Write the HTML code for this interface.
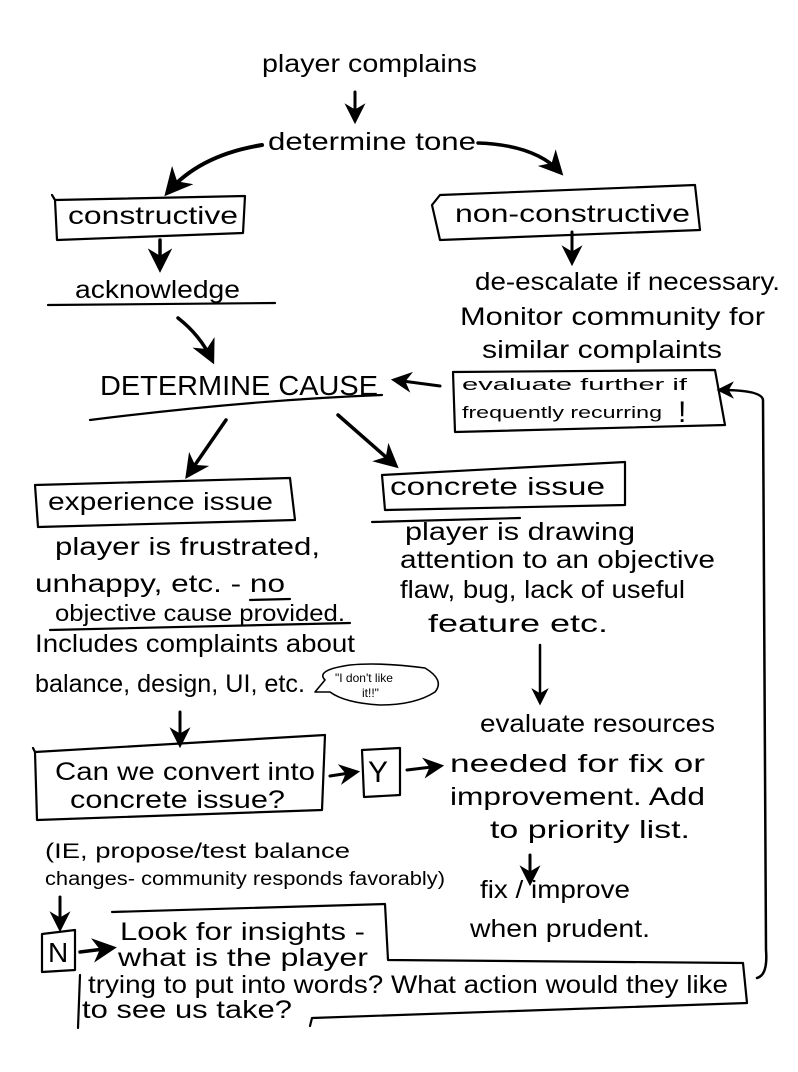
<!DOCTYPE html>
<html><head><meta charset="utf-8"><style>
html,body{margin:0;padding:0;background:#fff;}
svg{display:block;}
text{font-family:"Liberation Sans",sans-serif;fill:#000;}
</style></head><body>
<svg width="798" height="1072" viewBox="0 0 798 1072" xmlns="http://www.w3.org/2000/svg">
<defs>
<marker id="a" viewBox="0 0 10 10" refX="8" refY="5" markerWidth="7" markerHeight="7" orient="auto-start-reverse">
<path d="M0,0 L10,5 L0,10 L3,5 z" fill="#000"/></marker>
</defs>
<rect width="798" height="1072" fill="#fff"/>
<g fill="none" stroke="#000" stroke-width="2.2" stroke-linecap="round" stroke-linejoin="round">
<path d="M355,92 L355,120" marker-end="url(#a)" stroke-width="3"/>
<path d="M262,145 Q200,155 168,192" marker-end="url(#a)" stroke-width="4"/>
<path d="M478,143 Q535,145 560,172" marker-end="url(#a)" stroke-width="3.5"/>
<path d="M160,240 L160,268" marker-end="url(#a)" stroke-width="3.5"/>
<path d="M178,318 Q200,335 212,360" marker-end="url(#a)" stroke-width="3.5"/>
<path d="M572,232 L572,262" marker-end="url(#a)" stroke-width="3"/>
<path d="M440,386 L395,380" marker-end="url(#a)" stroke-width="3"/>
<path d="M226,420 L188,475" marker-end="url(#a)" stroke-width="3.5"/>
<path d="M338,415 L395,465" marker-end="url(#a)" stroke-width="3.5"/>
<path d="M540,645 L540,702" marker-end="url(#a)" stroke-width="2.5"/>
<path d="M180,712 L180,744" marker-end="url(#a)" stroke-width="3"/>
<path d="M330,776 L356,772" marker-end="url(#a)" stroke-width="3"/>
<path d="M407,770 L440,766" marker-end="url(#a)" stroke-width="3"/>
<path d="M530,855 L530,882" marker-end="url(#a)" stroke-width="3"/>
<path d="M60,897 L60,928" marker-end="url(#a)" stroke-width="3"/>
<path d="M80,952 L112,948" marker-end="url(#a)" stroke-width="3.5"/>
<path d="M757,978 Q768,975 766,950 L763,400 Q762,390 720,390" marker-end="url(#a)" stroke-width="2.5"/>
<path d="M55,200 L245,196 L243,233 L57,240 Z M55,200 L52,195"/>
<path d="M432,205 L440,195 L695,185 L700,230 L440,240 Z"/>
<path d="M48,305 L275,303"/>
<path d="M90,420 Q250,400 382,395"/>
<path d="M453,372 L715,370 L725,425 L455,432 Z"/>
<path d="M35,485 L290,478 L295,520 L38,527 Z"/>
<path d="M382,475 L625,462 L625,505 L385,510 Z"/>
<path d="M372,522 L520,518"/>
<path d="M50,630 L350,623"/>
<path d="M250,600 L290,599"/>
<path d="M35,752 L325,735 L322,810 L37,820 Z M35,752 L33,748"/>
<path d="M362,750 L400,748 L400,795 L364,797 Z"/>
<path d="M42,934 L75,930 L75,970 L42,972 Z"/>
<path d="M112,912 L385,904 L388,960 L743,963 L747,1003 L312,1018 L310,1026"/>
<path d="M80,975 L78,1028"/>
<path d="M325,680 Q315,670 350,665 Q380,662 425,668 Q445,680 435,692 Q415,705 380,705 Q345,703 330,692 L315,692 Z" stroke-width="1.6"/>
</g>
<g font-size="25">
<text x="262" y="72" textLength="215" lengthAdjust="spacingAndGlyphs">player complains</text>
<text x="268" y="150" textLength="208" lengthAdjust="spacingAndGlyphs">determine tone</text>
<text x="68" y="224" textLength="170" lengthAdjust="spacingAndGlyphs">constructive</text>
<text x="455" y="222" textLength="235" lengthAdjust="spacingAndGlyphs">non-constructive</text>
<text x="75" y="298" textLength="165" lengthAdjust="spacingAndGlyphs">acknowledge</text>
<text x="100" y="395" font-size="28" textLength="278" lengthAdjust="spacingAndGlyphs">DETERMINE CAUSE</text>
<text x="475" y="290" textLength="305" lengthAdjust="spacingAndGlyphs">de-escalate if necessary.</text>
<text x="460" y="325" textLength="305" lengthAdjust="spacingAndGlyphs">Monitor community for</text>
<text x="482" y="358" textLength="240" lengthAdjust="spacingAndGlyphs">similar complaints</text>
<text x="462" y="390" font-size="17" textLength="225" lengthAdjust="spacingAndGlyphs">evaluate further if</text>
<text x="462" y="418" font-size="17" textLength="200" lengthAdjust="spacingAndGlyphs">frequently recurring</text>
<text x="678" y="422" font-size="30">!</text>
<text x="48" y="510" textLength="225" lengthAdjust="spacingAndGlyphs">experience issue</text>
<text x="390" y="495" textLength="215" lengthAdjust="spacingAndGlyphs">concrete issue</text>
<text x="55" y="555" textLength="265" lengthAdjust="spacingAndGlyphs">player is frustrated,</text>
<text x="35" y="592" textLength="250" lengthAdjust="spacingAndGlyphs">unhappy, etc. - no</text>
<text x="55" y="621" font-size="23" textLength="290" lengthAdjust="spacingAndGlyphs">objective cause provided.</text>
<text x="35" y="652" textLength="320" lengthAdjust="spacingAndGlyphs">Includes complaints about</text>
<text x="35" y="692" textLength="270" lengthAdjust="spacingAndGlyphs">balance, design, UI, etc.</text>
<text x="335" y="682" font-size="12">"I don't like</text>
<text x="362" y="697" font-size="12">it!!"</text>
<text x="405" y="540" textLength="230" lengthAdjust="spacingAndGlyphs">player is drawing</text>
<text x="400" y="568" textLength="315" lengthAdjust="spacingAndGlyphs">attention to an objective</text>
<text x="400" y="598" textLength="285" lengthAdjust="spacingAndGlyphs">flaw, bug, lack of useful</text>
<text x="428" y="632" textLength="180" lengthAdjust="spacingAndGlyphs">feature etc.</text>
<text x="55" y="780" textLength="260" lengthAdjust="spacingAndGlyphs">Can we convert into</text>
<text x="70" y="808" textLength="215" lengthAdjust="spacingAndGlyphs">concrete issue?</text>
<text x="368" y="782" font-size="30">Y</text>
<text x="480" y="732" textLength="235" lengthAdjust="spacingAndGlyphs">evaluate resources</text>
<text x="450" y="772" textLength="255" lengthAdjust="spacingAndGlyphs">needed for fix or</text>
<text x="450" y="805" textLength="255" lengthAdjust="spacingAndGlyphs">improvement. Add</text>
<text x="490" y="838" textLength="200" lengthAdjust="spacingAndGlyphs">to priority list.</text>
<text x="45" y="858" font-size="21" textLength="305" lengthAdjust="spacingAndGlyphs">(IE, propose/test balance</text>
<text x="45" y="885" font-size="19" textLength="400" lengthAdjust="spacingAndGlyphs">changes- community responds favorably)</text>
<text x="480" y="898" textLength="150" lengthAdjust="spacingAndGlyphs">fix / improve</text>
<text x="470" y="937" textLength="180" lengthAdjust="spacingAndGlyphs">when prudent.</text>
<text x="48" y="962" font-size="28">N</text>
<text x="120" y="940" textLength="245" lengthAdjust="spacingAndGlyphs">Look for insights -</text>
<text x="118" y="966" textLength="250" lengthAdjust="spacingAndGlyphs">what is the player</text>
<text x="88" y="993" textLength="640" lengthAdjust="spacingAndGlyphs">trying to put into words? What action would they like</text>
<text x="82" y="1018" textLength="210" lengthAdjust="spacingAndGlyphs">to see us take?</text>
</g>
</svg>
</body></html>
